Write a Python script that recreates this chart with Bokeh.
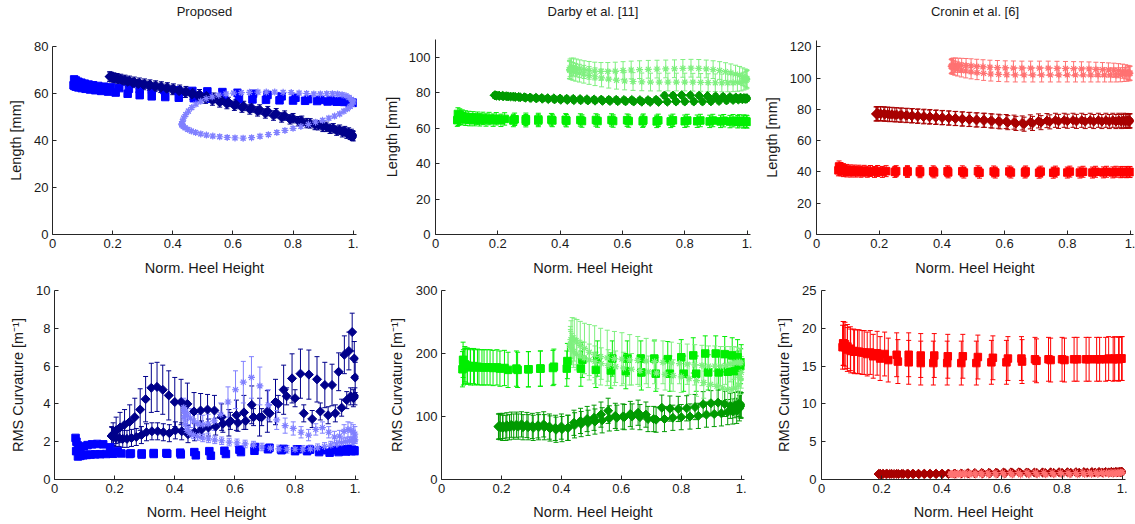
from bokeh.plotting import figure
from bokeh.models import (ColumnDataSource, Whisker, TeeHead, FixedTicker,
                          CustomJSTickFormatter, LinearAxis, Range1d)
from bokeh.layouts import column, row
from bokeh.embed import file_html
from bokeh.resources import INLINE

# ---------------- data ----------------
TITLES = ["Proposed", "Darby et al. [11]", "Cronin et al. [6]"]
XLABEL = "Norm. Heel Height"
YLABEL_LEN = "Length [mm]"
YLABEL_CRV = "RMS Curvature [m\u207b\u00b9]"
XTICKS = [0, 0.2, 0.4, 0.6, 0.8, 1.0]
YTICKS_LEN = [[0, 20, 40, 60, 80], [0, 20, 40, 60, 80, 100], [0, 20, 40, 60, 80, 100, 120]]
YTICKS_CRV = [[0, 2, 4, 6, 8, 10], [0, 100, 200, 300], [0, 5, 10, 15, 20, 25]]

# heel-height positions (shared by the three methods), outgoing and returning pass
SQ_X_OUT = [0.070, 0.073, 0.078, 0.086, 0.097, 0.110, 0.125, 0.142, 0.162, 0.185, 0.210, 0.250, 0.290, 0.330,
            0.375, 0.420, 0.470, 0.520, 0.570, 0.620, 0.665, 0.710, 0.755, 0.800, 0.840, 0.880, 0.915, 0.945,
            0.970, 0.988, 1.000]
SQ_X_BACK = [0.998, 0.990, 0.975, 0.955, 0.925, 0.890, 0.850, 0.808, 0.762, 0.715, 0.667, 0.615, 0.565, 0.515,
             0.465, 0.418, 0.372, 0.330, 0.290, 0.254, 0.222, 0.195, 0.172, 0.152, 0.135, 0.120, 0.107, 0.096,
             0.086, 0.078, 0.072]
DM_X_OUT = [0.190, 0.195, 0.205, 0.218, 0.233, 0.250, 0.267, 0.285, 0.303, 0.322, 0.341, 0.360, 0.380, 0.400,
            0.421, 0.442, 0.464, 0.486, 0.509, 0.532, 0.556, 0.580, 0.605, 0.630, 0.656, 0.682, 0.708, 0.735,
            0.762, 0.790, 0.818, 0.846, 0.873, 0.899, 0.923, 0.945, 0.964, 0.979, 0.990, 0.997, 1.000]
DM_X_BACK = [0.999, 0.994, 0.985, 0.972, 0.955, 0.934, 0.910, 0.884, 0.857, 0.829, 0.800, 0.772, 0.744, 0.716,
             0.689, 0.662, 0.636, 0.610, 0.585, 0.560, 0.536, 0.512, 0.489, 0.466, 0.444, 0.423, 0.402, 0.382,
             0.362, 0.343, 0.324, 0.306, 0.289, 0.272, 0.256, 0.241, 0.227, 0.215, 0.204, 0.196, 0.191]
ST_X_OUT = [0.430, 0.432, 0.436, 0.443, 0.452, 0.463, 0.477, 0.493, 0.511, 0.531, 0.553, 0.577, 0.602, 0.628,
            0.655, 0.683, 0.711, 0.739, 0.767, 0.794, 0.820, 0.845, 0.869, 0.891, 0.912, 0.931, 0.948, 0.963,
            0.976, 0.986, 0.994, 0.999]
ST_X_BACK = [1.000, 0.997, 0.990, 0.981, 0.969, 0.955, 0.938, 0.919, 0.898, 0.875, 0.851, 0.826, 0.800, 0.773,
             0.746, 0.718, 0.690, 0.662, 0.634, 0.607, 0.581, 0.556, 0.533, 0.512, 0.493, 0.476, 0.462, 0.450,
             0.441, 0.435, 0.431, 0.430]

# ---- Proposed: length ----
P_LEN_SQ_OUT = [63.5, 63.2, 62.9, 62.6, 62.3, 62.0, 61.7, 61.4, 61.1, 60.8, 60.4, 59.9, 59.3, 58.8, 58.5, 58.2,
                58.0, 57.8, 57.7, 57.6, 57.5, 57.3, 57.1, 57.0, 56.9, 56.8, 56.6, 56.5, 56.4, 56.2, 56.0]
P_LEN_SQ_BACK = [56.2, 56.5, 56.7, 56.8, 57.0, 57.3, 57.6, 58.2, 58.8, 59.4, 59.9, 60.3, 60.6, 60.9, 61.1, 61.3,
                 61.5, 61.7, 61.8, 62.0, 62.3, 62.6, 62.9, 63.2, 63.5, 63.8, 64.2, 64.6, 65.0, 65.5, 66.0]
P_LEN_SQ_ERR = 0.8
P_LEN_DM_OUT = [67.2, 67.0, 66.5, 66.0, 65.5, 65.0, 64.5, 64.0, 63.6, 63.2, 62.8, 62.4, 62.0, 61.5, 61.0, 60.3,
                59.5, 58.7, 57.8, 57.0, 56.2, 55.5, 54.8, 54.0, 53.2, 52.4, 51.5, 50.6, 49.8, 49.0, 48.2, 47.4,
                46.6, 45.8, 45.0, 44.2, 43.5, 42.9, 42.4, 42.0, 41.8]
P_LEN_DM_BACK = [42.2, 42.8, 43.4, 44.0, 44.6, 45.2, 45.8, 46.5, 47.3, 48.4, 49.5, 50.6, 51.6, 52.5, 53.2, 54.0,
                 54.7, 55.5, 56.4, 57.3, 58.2, 59.0, 59.7, 60.3, 61.0, 61.6, 62.1, 62.6, 63.0, 63.4, 63.8, 64.2,
                 64.6, 65.0, 65.4, 65.8, 66.2, 66.5, 66.8, 67.0, 67.2]
P_LEN_DM_ERR = 2.0
P_LEN_ST_OUT = [47.0, 48.0, 49.5, 51.0, 52.5, 54.0, 55.5, 56.7, 57.8, 58.6, 59.3, 59.8, 60.2, 60.4, 60.5, 60.6,
                60.6, 60.6, 60.5, 60.4, 60.2, 60.0, 59.8, 59.8, 59.9, 59.9, 59.8, 59.5, 59.0, 58.3, 57.5, 57.0]
P_LEN_ST_BACK = [56.5, 55.5, 54.5, 53.5, 52.5, 51.3, 50.4, 49.5, 48.6, 47.8, 46.9, 46.0, 45.2, 44.3, 43.4, 42.5,
                 41.8, 41.2, 41.0, 41.1, 41.3, 41.6, 41.9, 42.3, 42.8, 43.4, 44.0, 44.7, 45.4, 46.0, 46.5, 47.0]
P_LEN_ST_ERR = 0.8

# ---- Proposed: curvature ----
P_CRV_SQ_OUT = [2.2, 2.0, 1.8, 1.7, 1.75, 1.82, 1.86, 1.88, 1.86, 1.7, 1.5, 1.35, 1.32, 1.35, 1.36, 1.33, 1.28,
                1.26, 1.35, 1.45, 1.52, 1.6, 1.55, 1.5, 1.5, 1.45, 1.42, 1.45, 1.48, 1.5, 1.5]
P_CRV_SQ_BACK = [1.55, 1.58, 1.6, 1.58, 1.55, 1.55, 1.58, 1.6, 1.62, 1.68, 1.72, 1.58, 1.52, 1.5, 1.45, 1.42,
                 1.4, 1.4, 1.38, 1.38, 1.38, 1.36, 1.35, 1.34, 1.33, 1.32, 1.3, 1.28, 1.25, 1.22, 1.5]
P_CRV_SQ_ERR = 0.12
P_CRV_DM_OUT = [2.3, 2.4, 2.6, 2.75, 2.9, 3.05, 3.3, 3.7, 4.25, 4.85, 4.9, 4.75, 4.45, 4.1, 4.1, 4.0, 3.6, 3.65,
                3.7, 3.65, 3.3, 3.0, 3.4, 3.55, 3.95, 3.3, 3.6, 4.1, 4.75, 5.35, 5.6, 5.55, 5.3, 5.0, 5.0, 5.7,
                6.6, 6.8, 7.8, 6.4, 5.4]
P_CRV_DM_OUT_ERR = [0.5, 0.6, 0.7, 0.8, 0.8, 0.9, 1.0, 1.1, 1.2, 1.3, 1.3, 1.3, 1.3, 1.3, 1.2, 1.1, 1.0, 0.9,
                    0.8, 0.8, 0.7, 0.7, 0.8, 0.9, 1.0, 1.0, 1.1, 1.2, 1.3, 1.3, 1.3, 1.3, 1.2, 1.2, 1.1, 1.0,
                    1.0, 1.0, 1.0, 0.9, 0.8]
P_CRV_DM_BACK = [4.4, 4.3, 4.4, 4.2, 3.8, 3.5, 3.4, 3.6, 3.2, 3.5, 4.3, 4.4, 4.0, 3.5, 3.3, 3.3, 3.1, 3.0, 3.1,
                 2.95, 2.8, 2.75, 2.65, 2.5, 2.4, 2.55, 2.6, 2.45, 2.5, 2.55, 2.55, 2.5, 2.35, 2.25, 2.2, 2.15,
                 2.15, 2.2, 2.2, 2.25, 2.3]
P_CRV_DM_BACK_ERR = 0.45
P_CRV_ST_OUT = [3.8, 3.7, 3.55, 3.4, 3.25, 3.1, 2.95, 2.9, 2.95, 3.1, 3.45, 4.1, 4.75, 5.15, 5.4, 4.95, 3.95,
                3.15, 2.85, 2.7, 2.5, 2.35, 2.65, 2.75, 2.5, 2.25, 2.3, 2.55, 2.65, 2.6, 2.5, 2.4]
P_CRV_ST_OUT_ERR = [0.5, 0.5, 0.5, 0.5, 0.5, 0.5, 0.5, 0.5, 0.5, 0.5, 0.6, 0.8, 1.0, 1.1, 1.1, 1.0, 0.8, 0.5,
                    0.4, 0.35, 0.3, 0.3, 0.3, 0.3, 0.3, 0.3, 0.3, 0.35, 0.4, 0.4, 0.4, 0.4]
P_CRV_ST_BACK = [2.1, 2.1, 2.05, 2.05, 2.0, 1.95, 1.88, 1.82, 1.75, 1.68, 1.62, 1.6, 1.6, 1.6, 1.62, 1.66, 1.72,
                 1.82, 1.88, 1.94, 1.98, 2.05, 2.1, 2.15, 2.2, 2.28, 2.36, 2.45, 2.6, 2.9, 3.3, 3.7]
P_CRV_ST_BACK_ERR = 0.2

# ---- Darby: length ----
D_LEN_SQ_OUT = [64.5, 65.0, 65.5, 65.3, 65.0, 64.8, 64.8, 64.7, 64.6, 64.5, 64.4, 64.3, 64.2, 64.3, 64.3, 64.2,
                64.0, 64.0, 64.0, 64.0, 63.9, 63.8, 63.8, 63.9, 63.9, 63.8, 63.8, 63.7, 63.6, 63.5, 63.5]
D_LEN_SQ_BACK = [63.8, 64.0, 64.1, 64.2, 64.2, 64.3, 64.3, 64.3, 64.4, 64.4, 64.5, 64.5, 64.6, 64.6, 64.6, 64.7,
                 64.8, 64.9, 65.0, 65.0, 65.2, 65.3, 65.4, 65.5, 65.6, 65.8, 66.0, 66.3, 66.8, 67.4, 68.0]
D_LEN_SQ_ERR = 3.5
D_LEN_DM_OUT = [78.5, 78.4, 78.2, 78.0, 77.9, 77.8, 77.6, 77.4, 77.2, 77.1, 77.0, 76.9, 76.8, 76.7, 76.6, 76.5,
                76.4, 76.3, 76.2, 76.1, 76.0, 76.0, 75.9, 75.9, 75.8, 75.8, 76.0, 78.4, 78.4, 78.6, 78.5, 78.3,
                78.1, 77.9, 77.7, 77.5, 77.3, 77.2, 77.0, 76.9, 76.8]
D_LEN_DM_BACK = [76.6, 76.5, 76.3, 76.1, 75.9, 75.6, 75.3, 75.1, 75.0, 75.0, 75.0, 75.0, 74.9, 74.8, 74.8, 74.9,
                 75.0, 75.1, 75.2, 75.3, 75.4, 75.5, 75.6, 75.7, 75.8, 75.9, 76.0, 76.2, 76.4, 76.6, 76.8, 77.0,
                 77.2, 77.4, 77.6, 77.8, 78.0, 78.2, 78.3, 78.4, 78.5]
D_LEN_DM_ERR = 1.5
D_LEN_ST_OUT = [93.0, 94.0, 94.5, 94.5, 94.0, 93.5, 93.0, 92.6, 92.2, 92.0, 92.0, 92.2, 92.5, 92.8, 93.0, 93.2,
                93.3, 93.4, 93.5, 93.7, 93.8, 93.7, 93.4, 93.0, 92.5, 91.9, 91.2, 90.5, 89.8, 89.0, 88.4, 88.0]
D_LEN_ST_BACK = [87.5, 87.0, 86.5, 86.0, 85.8, 85.6, 85.5, 85.5, 85.6, 85.7, 85.8, 85.9, 86.0, 86.0, 86.0, 86.0,
                 86.0, 86.1, 86.3, 86.6, 87.0, 87.6, 88.3, 89.0, 89.7, 90.4, 91.0, 91.5, 92.0, 92.4, 92.7, 93.0]
D_LEN_ST_ERR = 5.0

# ---- Darby: curvature ----
D_CRV_SQ_OUT = [175, 178, 180, 179, 178, 178, 178, 178, 178, 178, 177, 176, 175, 176, 179, 188, 190, 192, 192,
                192, 192, 192, 191, 194, 197, 200, 200, 199, 197, 194, 186]
D_CRV_SQ_BACK = [180, 176, 172, 171, 170, 170, 168, 168, 168, 168, 170, 172, 173, 174, 176, 176, 177, 176, 175,
                 174, 174, 176, 177, 178, 178, 179, 180, 180, 181, 183, 190]
D_CRV_SQ_ERR = 28
D_CRV_DM_OUT = [84, 85, 85, 86, 87, 87, 87.5, 86.5, 85, 86, 87.5, 84, 82, 84, 82, 90, 93, 96, 98, 103, 109, 101,
                100, 104, 106, 103, 96, 114, 112.6, 112, 113, 115, 119.5, 121, 122, 120, 117, 118, 120, 119, 118]
D_CRV_DM_BACK = [117, 113, 109, 108, 107, 105, 104, 103, 101, 100, 99, 98, 96, 95, 96, 99, 100, 99, 98, 97, 94,
                 92, 90, 88, 86, 82, 80, 79, 81, 83, 83, 82, 83, 83, 84, 84, 83, 82, 82, 83, 84]
D_CRV_DM_ERR = 20
D_CRV_ST_OUT = [215, 222, 225, 222, 218, 213, 208, 202, 198, 195, 193, 192, 191, 190, 189, 188, 187, 186, 185,
                184, 183, 182, 181, 180, 180, 180, 181, 183, 185, 186, 186, 185]
D_CRV_ST_OUT_ERR = [28, 30, 32, 34, 36, 38, 40, 44, 46, 45, 44, 43, 42, 40, 38, 36, 35, 34, 33, 32, 32, 32, 32,
                    32, 32, 31, 30, 28, 26, 24, 22, 22]
D_CRV_ST_BACK = [170, 160, 150, 145, 143, 143, 145, 148, 151, 154, 157, 160, 163, 165, 167, 169, 171, 173, 175,
                 177, 179, 181, 184, 187, 190, 193, 196, 199, 203, 207, 210, 213]
D_CRV_ST_BACK_ERR = 25

# ---- Cronin: length ----
C_LEN_SQ_OUT = [41.0, 41.5, 41.0, 40.5, 40.3, 40.2, 40.2, 40.1, 40.1, 40.0, 40.0, 40.0, 40.0, 39.8, 39.7, 39.7,
                39.6, 39.5, 39.6, 39.6, 39.6, 39.5, 39.5, 39.6, 39.6, 39.6, 39.7, 39.7, 39.8, 39.8, 39.9]
C_LEN_SQ_BACK = [40.0, 40.0, 40.0, 40.1, 40.1, 40.1, 40.1, 40.2, 40.2, 40.2, 40.3, 40.3, 40.3, 40.4, 40.4, 40.4,
                 40.4, 40.5, 40.5, 40.5, 40.5, 40.6, 40.6, 40.7, 40.8, 40.9, 41.0, 41.3, 41.8, 42.5, 43.5]
C_LEN_SQ_ERR = 3.5
C_LEN_DM_OUT = [77.0, 77.2, 77.0, 76.8, 76.6, 76.4, 76.2, 76.0, 75.8, 75.5, 75.2, 75.0, 74.8, 74.6, 74.4, 74.1,
                73.8, 73.5, 73.2, 73.0, 72.7, 72.4, 72.2, 71.8, 71.3, 72.0, 72.6, 72.8, 73.0, 73.0, 73.0, 73.0,
                73.0, 73.0, 73.0, 73.0, 73.0, 73.0, 72.9, 72.8, 72.7]
C_LEN_DM_BACK = [72.5, 72.4, 72.3, 72.2, 72.2, 72.2, 72.2, 72.2, 72.2, 72.3, 72.4, 72.3, 72.0, 71.5, 71.0, 70.5,
                 71.0, 71.5, 72.0, 72.5, 73.0, 73.3, 73.6, 73.9, 74.2, 74.5, 74.8, 75.1, 75.4, 75.6, 75.8, 76.0,
                 76.2, 76.4, 76.6, 76.8, 77.0, 77.2, 77.3, 77.3, 77.2]
C_LEN_DM_ERR = 4.5
C_LEN_ST_OUT = [107.5, 108.0, 108.3, 108.3, 108.2, 108.1, 108.0, 107.8, 107.5, 107.2, 106.9, 106.7, 106.5, 106.4,
                106.3, 106.3, 106.3, 106.3, 106.2, 106.1, 106.0, 105.9, 105.8, 105.6, 105.4, 105.2, 105.0, 104.7,
                104.4, 104.0, 103.6, 103.3]
C_LEN_ST_BACK = [103.0, 102.7, 102.5, 102.3, 102.1, 102.0, 102.0, 102.0, 102.0, 102.0, 102.0, 102.0, 102.0, 102.0,
                 102.0, 102.0, 102.0, 102.0, 102.0, 102.1, 102.3, 102.6, 103.0, 103.5, 104.0, 104.6, 105.2, 105.8,
                 106.3, 106.8, 107.1, 107.4]
C_LEN_ST_ERR = 4.5

# ---- Cronin: curvature ----
C_CRV_SQ_OUT = [17.5, 18.0, 17.5, 17.2, 17.0, 16.9, 16.9, 16.8, 16.8, 16.7, 16.6, 16.5, 16.5, 16.4, 16.4, 16.3,
                16.3, 16.2, 16.1, 16.0, 16.0, 15.9, 15.9, 15.9, 15.9, 15.9, 15.9, 15.9, 15.9, 15.9, 16.0]
C_CRV_SQ_BACK = [16.0, 16.0, 16.0, 16.0, 15.9, 15.9, 15.9, 15.8, 15.8, 15.7, 15.6, 15.5, 15.5, 15.4, 15.4, 15.4,
                 15.4, 15.4, 15.5, 15.6, 15.8, 16.0, 16.3, 16.6, 16.8, 16.9, 17.0, 17.3, 17.6, 17.9, 18.0]
C_CRV_SQ_ERR = 2.9
C_CRV_DM_OUT = [0.72, 0.74, 0.75, 0.75, 0.75, 0.75, 0.75, 0.75, 0.75, 0.75, 0.75, 0.75, 0.75, 0.75, 0.76, 0.78,
                0.80, 0.82, 0.84, 0.86, 0.88, 0.90, 0.92, 0.94, 0.95, 0.93, 0.92, 0.94, 0.95, 0.96, 0.96, 0.97,
                0.98, 0.99, 1.00, 1.00, 1.01, 1.02, 1.02, 1.02, 1.00]
C_CRV_DM_BACK = [0.98, 0.97, 0.96, 0.95, 0.94, 0.93, 0.92, 0.91, 0.90, 0.89, 0.88, 0.88, 0.87, 0.87, 0.86, 0.86,
                 0.85, 0.84, 0.83, 0.82, 0.81, 0.80, 0.79, 0.78, 0.77, 0.76, 0.75, 0.74, 0.73, 0.73, 0.72, 0.72,
                 0.72, 0.72, 0.72, 0.72, 0.72, 0.72, 0.72, 0.72, 0.72]
C_CRV_DM_ERR = 0.1
C_CRV_ST_OUT = [0.70, 0.75, 0.80, 0.82, 0.84, 0.85, 0.86, 0.87, 0.88, 0.88, 0.89, 0.90, 0.90, 0.91, 0.92, 0.93,
                0.93, 0.92, 0.92, 0.92, 0.92, 0.92, 0.93, 0.93, 0.94, 0.95, 0.95, 0.96, 0.97, 0.97, 0.97, 0.96]
C_CRV_ST_BACK = [0.90, 0.85, 0.80, 0.75, 0.72, 0.70, 0.68, 0.67, 0.66, 0.65, 0.64, 0.63, 0.63, 0.62, 0.62, 0.62,
                 0.61, 0.61, 0.60, 0.60, 0.60, 0.60, 0.60, 0.60, 0.60, 0.60, 0.60, 0.61, 0.62, 0.63, 0.65, 0.68]
C_CRV_ST_ERR = 0.1

# ---------------- styling ----------------
FONT = "Liberation Sans"
TXT = "#1a1a1a"
AX = "#262626"
COLORS = {
    "P": ("#0000ff", "#00008b", "#8080ff"),
    "D": ("#00ee00", "#009a00", "#7ff07f"),
    "C": ("#ff0000", "#a80000", "#ff7272"),
}


def as_list(e, n):
    return list(e) if isinstance(e, (list, tuple)) else [e] * n


def add_series(p, xs, ys, es, color, kind):
    xs_all, ys_all, es_all = [], [], []
    for x, y, e in zip(xs, ys, es):
        xs_all += x
        ys_all += y
        es_all += as_list(e, len(x))
    src = ColumnDataSource(dict(
        x=xs_all, y=ys_all,
        lo=[a - b for a, b in zip(ys_all, es_all)],
        up=[a + b for a, b in zip(ys_all, es_all)]))
    w = Whisker(source=src, base="x", lower="lo", upper="up", dimension="height",
                line_color=color, line_width=1,
                lower_head=TeeHead(size=5, line_color=color, line_width=1),
                upper_head=TeeHead(size=5, line_color=color, line_width=1))
    p.add_layout(w)
    if kind == "sq":
        p.scatter("x", "y", source=src, marker="square", size=7.5, fill_color=color, line_color=color)
    elif kind == "dm":
        p.scatter("x", "y", source=src, marker="square", angle=0.785398, size=6.4,
                  fill_color=color, line_color=color)
    else:
        p.scatter("x", "y", source=src, marker="asterisk", size=7, line_color=color, line_width=1.2)


def make_panel(w, h, left, right, top, bottom, ymax, yticks, ylabel,
               ytick_sd, ylab_sd, xlab_sd, title=None, title_sd=10):
    p = figure(width=w, height=h, min_border_left=left, min_border_right=right,
               min_border_top=top, min_border_bottom=bottom, frame_align=False,
               x_range=Range1d(0, 1.011), y_range=Range1d(0, ymax),
               output_backend="svg", toolbar_location=None)
    p.outline_line_color = None
    p.grid.visible = False
    p.background_fill_color = "white"
    p.border_fill_color = "white"
    p.xaxis.ticker = FixedTicker(ticks=XTICKS)
    p.xaxis.formatter = CustomJSTickFormatter(code="""
        if (Math.abs(tick) < 1e-9) return "0";
        if (Math.abs(tick - 1) < 1e-9) return "1.";
        return tick.toFixed(1);
    """)
    p.yaxis.ticker = FixedTicker(ticks=yticks)
    p.xaxis.axis_label = XLABEL
    p.yaxis.axis_label = ylabel
    for ax in (p.xaxis[0], p.yaxis[0]):
        ax.axis_line_color = AX
        ax.axis_line_width = 1
        ax.major_tick_line_color = AX
        ax.major_tick_in = 4
        ax.major_tick_out = 0
        ax.minor_tick_line_color = None
        ax.minor_tick_out = 0
        ax.major_label_text_font = FONT
        ax.major_label_text_font_size = "13px"
        ax.major_label_text_color = TXT
        ax.axis_label_text_font = FONT
        ax.axis_label_text_font_size = "14.5px"
        ax.axis_label_text_font_style = "normal"
        ax.axis_label_text_color = TXT
    p.yaxis.major_label_standoff = ytick_sd
    p.yaxis.axis_label_standoff = ylab_sd
    p.xaxis.major_label_standoff = 4
    p.xaxis.axis_label_standoff = xlab_sd
    if title:
        # panel title carried by a bare axis above the frame
        t = LinearAxis(ticker=FixedTicker(ticks=[]), axis_label=title,
                       axis_line_color=None, major_tick_line_color=None, minor_tick_line_color=None,
                       major_tick_in=0, major_tick_out=0, minor_tick_in=0, minor_tick_out=0,
                       major_label_standoff=0, axis_label_standoff=title_sd,
                       axis_label_text_font=FONT, axis_label_text_font_size="13px",
                       axis_label_text_font_style="normal", axis_label_text_color=TXT)
        p.add_layout(t, "above")
    return p


def fill(p, key, sq, dm, st):
    c_sq, c_dm, c_st = COLORS[key]
    add_series(p, [SQ_X_OUT, SQ_X_BACK], [sq[0], sq[1]], [sq[2], sq[3]], c_sq, "sq")
    add_series(p, [DM_X_OUT, DM_X_BACK], [dm[0], dm[1]], [dm[2], dm[3]], c_dm, "dm")
    add_series(p, [ST_X_OUT, ST_X_BACK], [st[0], st[1]], [st[2], st[3]], c_st, "st")


# ---------------- top row: length ----------------
tl = make_panel(380, 280, 52, 24, 46, 46, 80, YTICKS_LEN[0], YLABEL_LEN, 4, 7, 9, TITLES[0], 28)
fill(tl, "P",
     (P_LEN_SQ_OUT, P_LEN_SQ_BACK, P_LEN_SQ_ERR, P_LEN_SQ_ERR),
     (P_LEN_DM_OUT, P_LEN_DM_BACK, P_LEN_DM_ERR, P_LEN_DM_ERR),
     (P_LEN_ST_OUT, P_LEN_ST_BACK, P_LEN_ST_ERR, P_LEN_ST_ERR))

tm = make_panel(380, 280, 53, 10, 39, 46, 110, YTICKS_LEN[1], YLABEL_LEN, 5, 6, 9, TITLES[1], 21)
fill(tm, "D",
     (D_LEN_SQ_OUT, D_LEN_SQ_BACK, D_LEN_SQ_ERR, D_LEN_SQ_ERR),
     (D_LEN_DM_OUT, D_LEN_DM_BACK, D_LEN_DM_ERR, D_LEN_DM_ERR),
     (D_LEN_ST_OUT, D_LEN_ST_BACK, D_LEN_ST_ERR, D_LEN_ST_ERR))

tr = make_panel(375, 280, 56, 2, 40, 46, 124, YTICKS_LEN[2], YLABEL_LEN, 5, 7, 9, TITLES[2], 22)
fill(tr, "C",
     (C_LEN_SQ_OUT, C_LEN_SQ_BACK, C_LEN_SQ_ERR, C_LEN_SQ_ERR),
     (C_LEN_DM_OUT, C_LEN_DM_BACK, C_LEN_DM_ERR, C_LEN_DM_ERR),
     (C_LEN_ST_OUT, C_LEN_ST_BACK, C_LEN_ST_ERR, C_LEN_ST_ERR))

# ---------------- bottom row: curvature ----------------
bl = make_panel(382, 244, 54, 24, 10, 45, 10, YTICKS_CRV[0], YLABEL_CRV, 4, 7, 8)
fill(bl, "P",
     (P_CRV_SQ_OUT, P_CRV_SQ_BACK, P_CRV_SQ_ERR, P_CRV_SQ_ERR),
     (P_CRV_DM_OUT, P_CRV_DM_BACK, P_CRV_DM_OUT_ERR, P_CRV_DM_BACK_ERR),
     (P_CRV_ST_OUT, P_CRV_ST_BACK, P_CRV_ST_OUT_ERR, P_CRV_ST_BACK_ERR))

bm = make_panel(384, 244, 59, 22, 10, 45, 300, YTICKS_CRV[1], YLABEL_CRV, 4, 8, 8)
fill(bm, "D",
     (D_CRV_SQ_OUT, D_CRV_SQ_BACK, D_CRV_SQ_ERR, D_CRV_SQ_ERR),
     (D_CRV_DM_OUT, D_CRV_DM_BACK, D_CRV_DM_ERR, D_CRV_DM_ERR),
     (D_CRV_ST_OUT, D_CRV_ST_BACK, D_CRV_ST_OUT_ERR, D_CRV_ST_BACK_ERR))

br = make_panel(369, 244, 55, 10, 10, 45, 25, YTICKS_CRV[2], YLABEL_CRV, 5, 7, 8)
fill(br, "C",
     (C_CRV_SQ_OUT, C_CRV_SQ_BACK, C_CRV_SQ_ERR, C_CRV_SQ_ERR),
     (C_CRV_DM_OUT, C_CRV_DM_BACK, C_CRV_DM_ERR, C_CRV_DM_ERR),
     (C_CRV_ST_OUT, C_CRV_ST_BACK, C_CRV_ST_ERR, C_CRV_ST_ERR))

layout = column(row(tl, tm, tr), row(bl, bm, br))

with open("out.html", "w") as f:
    f.write(file_html(layout, INLINE))
